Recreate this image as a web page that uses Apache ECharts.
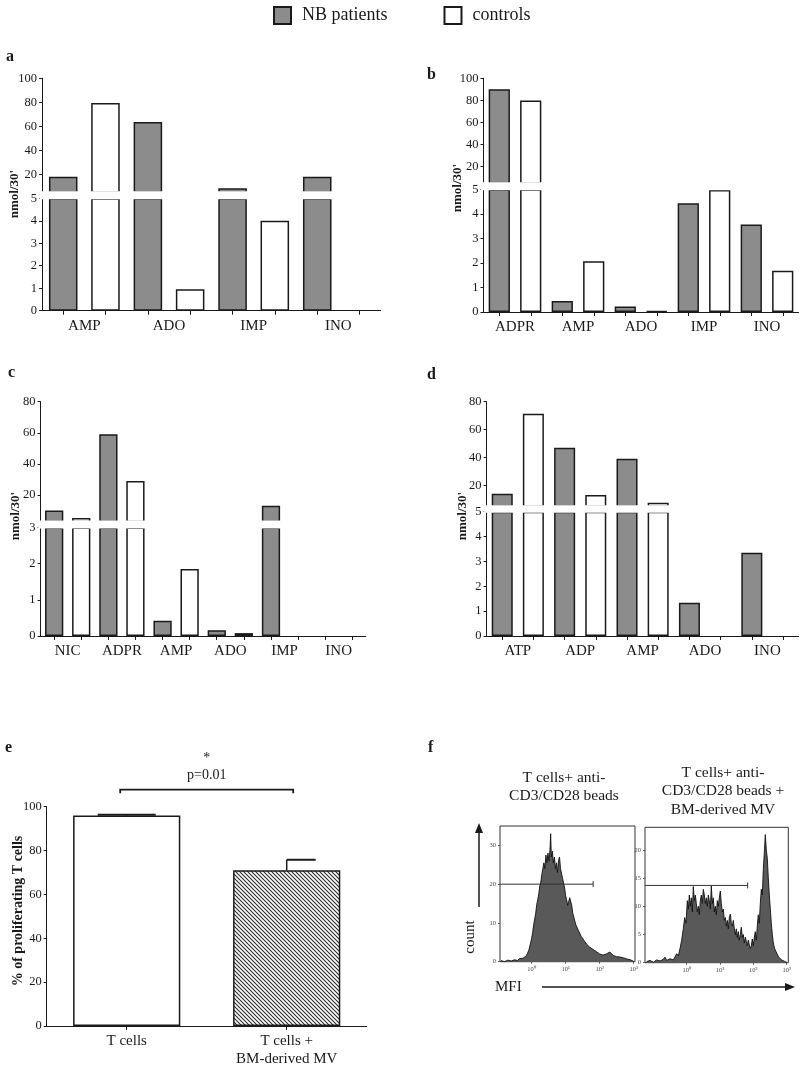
<!DOCTYPE html>
<html><head><meta charset="utf-8">
<script src="https://cdn.jsdelivr.net/npm/echarts@6/dist/echarts.min.js"></script>
<style>html,body{margin:0;padding:0;background:#fff}#c{width:800px;height:1068px}</style>
</head><body><div id="c"></div>
<script>
// ---------------- DATA ----------------
const legendNames = ['NB patients', 'controls'];

const aCats = ['AMP', 'ADO', 'IMP', 'INO'];
const aNB   = [18, 63.6, 8.3, 18];
const aCtrl = [79.5, 0.95, 4.0, 0];
const aUpTicks = [20, 40, 60, 80, 100];

const bCats = ['ADPR', 'AMP', 'ADO', 'IMP', 'INO'];
const bNB   = [90, 0.45, 0.22, 4.43, 3.57];
const bCtrl = [80, 2.07, 0.04, 4.97, 1.68];
const bUpTicks = [20, 40, 60, 80, 100];

const cCats = ['NIC', 'ADPR', 'AMP', 'ADO', 'IMP', 'INO'];
const cNB   = [10, 59, 0.42, 0.16, 13, 0];
const cCtrl = [5.2, 29, 1.85, 0.08, 0, 0];
const cUpTicks = [20, 40, 60, 80];

const dCats = ['ATP', 'ADP', 'AMP', 'ADO', 'INO'];
const dNB   = [14, 47, 39, 1.34, 3.35];
const dCtrl = [71.4, 13, 7.5, 0, 0];
const dUpTicks = [20, 40, 60, 80];

const yNameBars = "nmol/30'";

const eCats = ['T cells', 'T cells +\nBM-derived MV'];
const eVals = [96, 71];
const eErr  = [0.3, 4.8];
const eYName = '% of proliferating T cells';
const ePText = 'p=0.01';
const eStar = '*';

const fTitleL = 'T cells+ anti-\nCD3/CD28 beads';
const fTitleR = 'T cells+ anti-\nCD3/CD28 beads +\nBM-derived MV';
const fXTicks = [0, 1, 2, 3];            // log10(MFI)
const fYTicksL = [0, 10, 20, 30];
const fYTicksR = [0, 5, 10, 15, 20];
const fGateL = [-0.93, 1.81, 20];        // [from, to, count]
const fGateR = [-1.25, 1.83, 13.7];
// histogram: [log10 MFI, count]
const fHistL = [[-0.9,0.3],[-0.8,0],[-0.7,0.4],[-0.6,0.2],[-0.5,0.5],[-0.42,0.3],[-0.35,0.8],[-0.3,0.6],[-0.25,0.9],
 [-0.2,0.8],[-0.16,1.5],[-0.12,2.2],[-0.08,3.0],[-0.04,4.5],[0,6.0],[0.03,7.5],[0.06,9.5],[0.09,11.0],[0.12,12.5],
 [0.15,14.7],[0.18,16.0],[0.21,17.5],[0.24,19.5],[0.27,20.5],[0.3,22.5],[0.33,24.0],[0.36,25.5],[0.39,24.0],[0.42,27.5],
 [0.45,25.5],[0.48,28.0],[0.51,26.0],[0.54,29.0],[0.56,33.0],[0.58,27.0],[0.61,28.5],[0.64,25.5],[0.67,27.0],[0.7,24.0],
 [0.73,25.5],[0.76,23.0],[0.79,26.0],[0.82,27.0],[0.85,24.0],[0.88,23.5],[0.91,21.5],[0.94,22.0],[0.97,19.0],[1.0,17.0],
 [1.03,16.0],[1.06,14.5],[1.09,15.5],[1.12,16.5],[1.15,17.0],[1.18,14.5],[1.21,12.5],[1.24,11.5],[1.27,10.5],[1.3,9.5],
 [1.34,9.0],[1.38,8.0],[1.42,7.5],[1.46,6.5],[1.5,6.0],[1.54,5.5],[1.58,5.0],[1.62,4.5],[1.66,4.2],[1.7,3.8],[1.75,3.5],
 [1.8,3.2],[1.85,3.0],[1.9,2.6],[1.95,2.3],[2.0,2.0],[2.05,1.9],[2.1,1.7],[2.15,1.8],[2.2,2.0],[2.25,2.3],[2.3,2.5],
 [2.35,2.0],[2.4,1.6],[2.45,1.4],[2.5,1.3],[2.55,1.1],[2.6,1.2],[2.65,0.9],[2.7,1.0],[2.75,0.8],[2.8,0.7],[2.85,0.6],
 [2.9,0.5],[2.95,0.3],[3.0,0.1]];
const fHistR = [[-1.2,0.2],[-1.1,0.4],[-1.0,0.1],[-0.9,0.5],[-0.8,0.3],[-0.7,0.6],[-0.65,1.0],[-0.6,0.4],[-0.5,0.7],
 [-0.4,0.5],[-0.35,1.0],[-0.3,1.6],[-0.25,1.2],[-0.2,2.5],[-0.15,4.0],[-0.1,6.0],[-0.06,8.0],[-0.02,7.0],[0.02,11.0],
 [0.05,9.5],[0.08,12.0],[0.11,10.0],[0.14,11.5],[0.17,9.0],[0.2,13.5],[0.23,11.0],[0.26,12.0],[0.29,10.5],[0.32,9.0],
 [0.35,10.0],[0.38,8.5],[0.41,11.0],[0.44,12.0],[0.47,10.5],[0.5,13.0],[0.53,12.0],[0.56,10.5],[0.59,11.5],[0.62,10.0],
 [0.65,12.0],[0.68,11.0],[0.71,9.5],[0.74,13.6],[0.77,10.5],[0.8,11.5],[0.83,9.0],[0.86,10.0],[0.89,8.5],[0.92,11.0],
 [0.95,10.0],[0.98,11.5],[1.01,12.7],[1.04,10.5],[1.07,9.0],[1.1,9.5],[1.13,7.5],[1.16,8.0],[1.19,6.5],[1.22,7.5],
 [1.25,6.0],[1.28,8.0],[1.31,8.6],[1.34,7.0],[1.37,6.5],[1.4,7.5],[1.43,6.0],[1.46,5.0],[1.49,6.0],[1.52,4.5],[1.55,5.5],
 [1.58,4.0],[1.61,5.0],[1.64,6.3],[1.67,4.5],[1.7,5.0],[1.73,3.5],[1.76,4.5],[1.79,3.8],[1.82,3.0],[1.85,4.0],[1.88,3.2],
 [1.91,2.5],[1.94,3.0],[1.97,4.2],[2.0,3.0],[2.03,4.5],[2.06,5.5],[2.09,4.0],[2.12,6.5],[2.15,8.5],[2.18,7.0],[2.21,10.5],
 [2.24,13.0],[2.27,12.0],[2.3,16.5],[2.33,19.5],[2.36,22.7],[2.39,20.0],[2.42,18.5],[2.45,15.0],[2.48,12.0],[2.51,9.5],
 [2.54,7.0],[2.57,5.0],[2.6,3.5],[2.64,2.5],[2.68,2.0],[2.72,1.5],[2.76,1.0],[2.8,0.8],[2.85,0.5],[2.9,0.6],[2.95,0.2],[3.0,0.1]];

// ---------------- STYLE / LAYOUT ----------------
const FONT = "'Liberation Serif','Times New Roman',serif";
const INK = '#1a1a1a';
const GRAY = '#8c8c8c';
const nbStyle = {color: GRAY, borderColor: INK, borderWidth: 1.5};
const ctStyle = {color: '#ffffff', borderColor: INK, borderWidth: 1.5};
const lay = {
  a: {left: 42, width: 338.7, upTop: 78.3, upH: 114, loTop: 198.3, loH: 112.4, brk: 5, upMax: 100},
  b: {left: 483.5, width: 315, upTop: 78.3, upH: 105, loTop: 189.3, loH: 122.7, brk: 5, upMax: 100},
  c: {left: 40.6, width: 325.2, upTop: 401.7, upH: 119.7, loTop: 527.4, loH: 108.6, brk: 3, upMax: 80},
  d: {left: 486.6, width: 312, upTop: 401.7, upH: 104.5, loTop: 511.7, loH: 124.3, brk: 5, upMax: 80}
};

const grids = [], xAxes = [], yAxes = [], series = [], graphics = [];
const axLine = {show: true, onZero: false, lineStyle: {color: INK, width: 1}};
const tickLab = {fontFamily: FONT, fontSize: 12.5, color: INK, margin: 5};

function barPanel(cats, nb, ctrl, upTicks, L) {
  const gUp = grids.length; grids.push({left: L.left, top: L.upTop, width: L.width, height: L.upH});
  const gLo = grids.length; grids.push({left: L.left, top: L.loTop, width: L.width, height: L.loH});
  const xUp = xAxes.length;
  xAxes.push({type: 'category', gridIndex: gUp, data: cats, position: 'bottom', show: false});
  const xLo = xAxes.length;
  xAxes.push({type: 'category', gridIndex: gLo, data: cats, position: 'bottom', axisLine: axLine,
    axisTick: {show: false}, axisLabel: {fontFamily: FONT, fontSize: 15, color: INK, margin: 8, interval: 0}});
  const slotTicks = [];
  cats.forEach((c, i) => { slotTicks.push(2 * i + 0.5, 2 * i + 1.5); });
  xAxes.push({type: 'value', gridIndex: gLo, position: 'bottom', min: 0, max: cats.length * 2,
    axisLine: {show: false, onZero: false}, splitLine: {show: false}, axisLabel: {show: false},
    axisTick: {show: true, length: 4, customValues: slotTicks, lineStyle: {color: INK}}});
  const yUp = yAxes.length;
  yAxes.push({type: 'value', gridIndex: gUp, min: L.brk, max: L.upMax, axisLine: axLine, splitLine: {show: false},
    axisTick: {show: true, length: 3, customValues: upTicks, lineStyle: {color: INK}},
    axisLabel: Object.assign({customValues: upTicks}, tickLab)});
  const yLo = yAxes.length;
  yAxes.push({type: 'value', gridIndex: gLo, min: 0, max: L.brk, interval: 1, axisLine: axLine, splitLine: {show: false},
    axisTick: {show: true, length: 3, lineStyle: {color: INK}}, axisLabel: tickLab});
  const common = {type: 'bar', barGap: '48%', barCategoryGap: '16.4%', silent: true, animation: false};
  series.push(Object.assign({name: legendNames[0], xAxisIndex: xUp, yAxisIndex: yUp, itemStyle: nbStyle,
    data: nb.map(v => v > L.brk ? v : null)}, common));
  series.push(Object.assign({name: legendNames[1], xAxisIndex: xUp, yAxisIndex: yUp, itemStyle: ctStyle,
    data: ctrl.map(v => v > L.brk ? v : null)}, common));
  series.push(Object.assign({name: legendNames[0], xAxisIndex: xLo, yAxisIndex: yLo, itemStyle: nbStyle,
    data: nb.map(v => v > 0 ? Math.min(v, L.brk) : null)}, common));
  series.push(Object.assign({name: legendNames[1], xAxisIndex: xLo, yAxisIndex: yLo, itemStyle: ctStyle,
    data: ctrl.map(v => v > 0 ? Math.min(v, L.brk) : null)}, common));
  // white axis-break band between the two grids
  graphics.push({type: 'rect', z: 100, silent: true,
    shape: {x: L.left - 2.5, y: L.upTop + L.upH - 1, width: L.width + 3, height: L.loTop - (L.upTop + L.upH) + 2},
    style: {fill: '#ffffff'}});
}
barPanel(aCats, aNB, aCtrl, aUpTicks, lay.a);
barPanel(bCats, bNB, bCtrl, bUpTicks, lay.b);
barPanel(cCats, cNB, cCtrl, cUpTicks, lay.c);
barPanel(dCats, dNB, dCtrl, dUpTicks, lay.d);

// ---- panel e ----
function hatch() {
  const c = document.createElement('canvas'); c.width = 4; c.height = 4;
  const g = c.getContext('2d');
  g.fillStyle = '#ffffff'; g.fillRect(0, 0, 4, 4);
  g.strokeStyle = '#2a2a2a'; g.lineWidth = 1.1;
  g.beginPath();
  g.moveTo(-1, -1); g.lineTo(5, 5);
  g.moveTo(-1, 3); g.lineTo(1, 5);
  g.moveTo(3, -1); g.lineTo(5, 1);
  g.stroke();
  return c;
}
const geIdx = grids.length;
grids.push({left: 46.7, top: 806.7, width: 320, height: 224.3});
const xeIdx = xAxes.length;
xAxes.push({type: 'category', gridIndex: geIdx, data: eCats, axisLine: axLine,
  axisTick: {show: true, alignWithLabel: true, length: 4, lineStyle: {color: INK}},
  axisLabel: {fontFamily: FONT, fontSize: 15, color: INK, margin: 6, lineHeight: 18, interval: 0}});
const yeIdx = yAxes.length;
yAxes.push({type: 'value', gridIndex: geIdx, min: 0, max: 100, interval: 20, axisLine: axLine, splitLine: {show: false},
  axisTick: {show: true, length: 3, lineStyle: {color: INK}}, axisLabel: tickLab});
series.push({type: 'bar', xAxisIndex: xeIdx, yAxisIndex: yeIdx, barCategoryGap: '33%', silent: true, animation: false,
  data: eVals.map((v, i) => ({value: v, itemStyle: i === 0 ? {color: '#ffffff', borderColor: INK, borderWidth: 1.5}
    : {color: {image: hatch(), repeat: 'repeat'}, borderColor: INK, borderWidth: 1.5}}))});
series.push({type: 'custom', xAxisIndex: xeIdx, yAxisIndex: yeIdx, silent: true, animation: false, z: 5,
  data: eVals.map((v, i) => [i, v, eErr[i]]),
  renderItem: function (params, api) {
    const p0 = api.coord([api.value(0), api.value(1)]);
    const p1 = api.coord([api.value(0), api.value(1) + api.value(2)]);
    const hw = 29;
    const xs = params.dataIndex === 0 ? p1[0] - hw : p1[0];
    return {type: 'group', children: [
      {type: 'line', shape: {x1: p0[0], y1: p0[1], x2: p1[0], y2: p1[1]}, style: {stroke: INK, lineWidth: 1.5}},
      {type: 'line', shape: {x1: xs, y1: p1[1], x2: p1[0] + hw, y2: p1[1]}, style: {stroke: INK, lineWidth: 2}}
    ]};
  }});
series.push({type: 'custom', xAxisIndex: xeIdx, yAxisIndex: yeIdx, silent: true, animation: false, clip: false,
  data: [[0, 1]],
  renderItem: function (params, api) {
    const pA = api.coord([api.value(0), 100]);
    const pB = api.coord([api.value(1), 100]);
    const y = pA[1] - 17, x1 = pA[0] - 6.5, x2 = pB[0] + 6.5, mid = (x1 + x2) / 2;
    return {type: 'group', children: [
      {type: 'polyline', shape: {points: [[x1, y + 3.5], [x1, y], [x2, y], [x2, y + 3.5]]}, style: {stroke: INK, lineWidth: 1.8, fill: null}},
      {type: 'text', x: mid, y: y - 14, style: {text: ePText, fontFamily: FONT, fontSize: 14, fill: INK, align: 'center', verticalAlign: 'middle'}},
      {type: 'text', x: mid, y: y - 31, style: {text: eStar, fontFamily: FONT, fontSize: 14, fill: INK, align: 'center', verticalAlign: 'middle'}}
    ]};
  }});

// ---- panel f ----
function flowPanel(hist, gate, yTicks, yMax, box, xMin, xMax) {
  const g = grids.length;
  grids.push(Object.assign({show: true, borderColor: '#333', borderWidth: 1}, box));
  const xi = xAxes.length;
  xAxes.push({type: 'value', gridIndex: g, min: xMin, max: xMax, axisLine: {show: false, onZero: false}, splitLine: {show: false},
    axisTick: {show: true, length: 2, customValues: fXTicks, lineStyle: {color: '#555'}},
    axisLabel: {customValues: fXTicks, fontFamily: FONT, fontSize: 6.5, color: '#444', margin: 4,
      formatter: v => '10' + '⁰¹²³'.charAt(Math.round(v))}});
  const yi = yAxes.length;
  yAxes.push({type: 'value', gridIndex: g, min: 0, max: yMax, axisLine: {show: false, onZero: false}, splitLine: {show: false},
    axisTick: {show: true, length: 2, customValues: yTicks, lineStyle: {color: '#555'}},
    axisLabel: {customValues: yTicks, fontFamily: FONT, fontSize: 6.5, color: '#444', margin: 4}});
  series.push({type: 'line', xAxisIndex: xi, yAxisIndex: yi, data: hist, showSymbol: false, symbol: 'none',
    silent: true, animation: false, lineStyle: {color: '#111', width: 0.9}, areaStyle: {color: '#595959', opacity: 1}});
  series.push({type: 'custom', xAxisIndex: xi, yAxisIndex: yi, silent: true, animation: false, z: 6,
    data: [gate],
    renderItem: function (params, api) {
      const p0 = api.coord([api.value(0), api.value(2)]);
      const p1 = api.coord([api.value(1), api.value(2)]);
      return {type: 'group', children: [
        {type: 'line', shape: {x1: p0[0], y1: p0[1], x2: p1[0], y2: p1[1]}, style: {stroke: '#333', lineWidth: 1}},
        {type: 'line', shape: {x1: p1[0], y1: p1[1] - 3, x2: p1[0], y2: p1[1] + 3}, style: {stroke: '#333', lineWidth: 1}}
      ]};
    }});
}
flowPanel(fHistL, fGateL, fYTicksL, 35, {left: 500, top: 826, width: 135, height: 135.7}, -0.93, 3.04);
flowPanel(fHistR, fGateR, fYTicksR, 24, {left: 645, top: 827.3, width: 143.3, height: 135.4}, -1.25, 3.05);

// ---- texts / decorations ----
function txt(x, y, text, opt) {
  graphics.push({type: 'text', x: x, y: y, rotation: (opt && opt.rot) || 0, silent: true, z: 50,
    style: Object.assign({text: text, fontFamily: FONT, fontSize: 15, fill: INK, align: 'center', verticalAlign: 'middle'}, opt && opt.style)});
}
const bold16 = {fontWeight: 'bold', fontSize: 16, align: 'left'};
txt(6, 57, 'a', {style: bold16});
txt(427, 75, 'b', {style: bold16});
txt(8, 373, 'c', {style: bold16});
txt(427, 375, 'd', {style: bold16});
txt(5, 748, 'e', {style: bold16});
txt(428, 748, 'f', {style: bold16});
const yn = {fontWeight: 'bold', fontSize: 13};
txt(15, 194, yNameBars, {rot: Math.PI / 2, style: yn});
txt(458, 188, yNameBars, {rot: Math.PI / 2, style: yn});
txt(16, 516, yNameBars, {rot: Math.PI / 2, style: yn});
txt(463, 516, yNameBars, {rot: Math.PI / 2, style: yn});
txt(18, 911, eYName, {rot: Math.PI / 2, style: {fontWeight: 'bold', fontSize: 14}});
txt(564, 787, fTitleL, {style: {fontSize: 15.5, lineHeight: 18.5}});
txt(723, 791, fTitleR, {style: {fontSize: 15.5, lineHeight: 18.5}});
txt(470, 937, 'count', {rot: Math.PI / 2, style: {fontSize: 15}});
txt(495, 987, 'MFI', {style: {fontSize: 15, align: 'left'}});
graphics.push({type: 'line', silent: true, shape: {x1: 479, y1: 907, x2: 479, y2: 832}, style: {stroke: INK, lineWidth: 1.5}});
graphics.push({type: 'polygon', silent: true, shape: {points: [[475, 833], [483, 833], [479, 823]]}, style: {fill: INK}});
graphics.push({type: 'line', silent: true, shape: {x1: 542, y1: 987, x2: 786, y2: 987}, style: {stroke: INK, lineWidth: 1.5}});
graphics.push({type: 'polygon', silent: true, shape: {points: [[785, 983], [785, 991], [795, 987]]}, style: {fill: INK}});

const option = {
  backgroundColor: '#ffffff',
  animation: false,
  legend: {data: legendNames, left: 268, top: 1, itemWidth: 17, itemHeight: 17, itemGap: 56, icon: 'rect',
    selectedMode: false, textStyle: {fontFamily: FONT, fontSize: 18, color: INK, padding: [0, 0, 0, 6]}},
  grid: grids, xAxis: xAxes, yAxis: yAxes, series: series, graphic: graphics
};
const chart = echarts.init(document.getElementById('c'), null, {renderer: 'canvas'});
chart.setOption(option);
</script></body></html>
